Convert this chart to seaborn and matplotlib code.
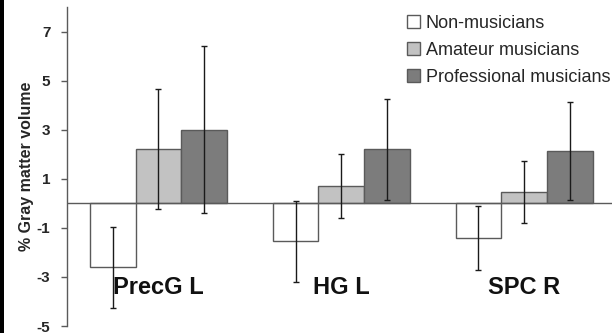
import matplotlib
matplotlib.use("Agg")
import matplotlib.pyplot as plt
import seaborn as sns
import pandas as pd
import numpy as np
from matplotlib.patches import Rectangle

regions = ["PrecG L", "HG L", "SPC R"]
groups = ["Non-musicians", "Amateur musicians", "Professional musicians"]
non_mus = [-2.6, -1.55, -1.43]
amateur = [2.2, 0.7, 0.45]
professional = [3.0, 2.2, 2.12]
err_non = [1.65, 1.65, 1.3]
err_am = [2.45, 1.3, 1.27]
err_pro = [3.4, 2.05, 2.0]
yticks = [-5, -3, -1, 1, 3, 5, 7]

colors = ["#ffffff", "#c2c2c2", "#7c7c7c"]

df = pd.DataFrame({
    "region": regions * 3,
    "group": np.repeat(groups, 3),
    "value": non_mus + amateur + professional,
})
errs = [err_non, err_am, err_pro]

sns.set_style("white")
plt.rcParams["font.family"] = ["Liberation Sans", "DejaVu Sans"]

fig = plt.figure(figsize=(6.12, 3.33), dpi=100)
ax = fig.add_axes([0.1095, 0.021, 0.8905, 0.958])

sns.barplot(data=df, x="region", y="value", hue="group", order=regions,
            hue_order=groups, palette=colors, width=0.75, gap=0,
            errorbar=None, edgecolor="#5a5a5a", linewidth=1.0, ax=ax,
            saturation=1)

# error bars on top of each bar
for cont, e in zip(ax.containers, errs):
    xs = [p.get_x() + p.get_width() / 2 for p in cont.patches]
    ys = [p.get_y() + p.get_height() for p in cont.patches]
    ax.errorbar(xs, ys, yerr=e, fmt="none", ecolor="#1a1a1a",
                elinewidth=1.0, capsize=2.2, capthick=1.0, zorder=5)

ax.axhline(0, color="#5a5a5a", lw=1.0, zorder=1)

for i, r in enumerate(regions):
    ax.text(i, -3.45, r, ha="center", va="center", fontsize=17,
            fontweight="bold", color="#111111")

ax.set_xlim(-0.5, 2.48)
ax.set_ylim(-5, 8)
ax.set_yticks(yticks)
ax.set_yticklabels([str(t) for t in yticks], fontweight="bold", fontsize=11)
ax.set_xticks([])
ax.set_xlabel("")
ax.set_ylabel("% Gray matter volume", fontsize=11.5, fontweight="bold",
              labelpad=2)
ax.tick_params(axis="y", direction="out", length=4, width=1,
               color="#5a5a5a", pad=8, left=True)
for s in ["top", "right", "bottom"]:
    ax.spines[s].set_visible(False)
ax.spines["left"].set_color("#5a5a5a")
ax.spines["left"].set_linewidth(1.0)

ax.legend(loc="upper right", bbox_to_anchor=(0.997, 0.975), frameon=False,
          fontsize=13, handlelength=0.72, handleheight=0.72,
          handletextpad=0.35, labelspacing=0.55, borderpad=0,
          borderaxespad=0)

fig.patches.append(Rectangle((0, 0), 4 / 612, 1, transform=fig.transFigure,
                             facecolor="black", edgecolor="none"))

fig.savefig("out.png", dpi=100)
